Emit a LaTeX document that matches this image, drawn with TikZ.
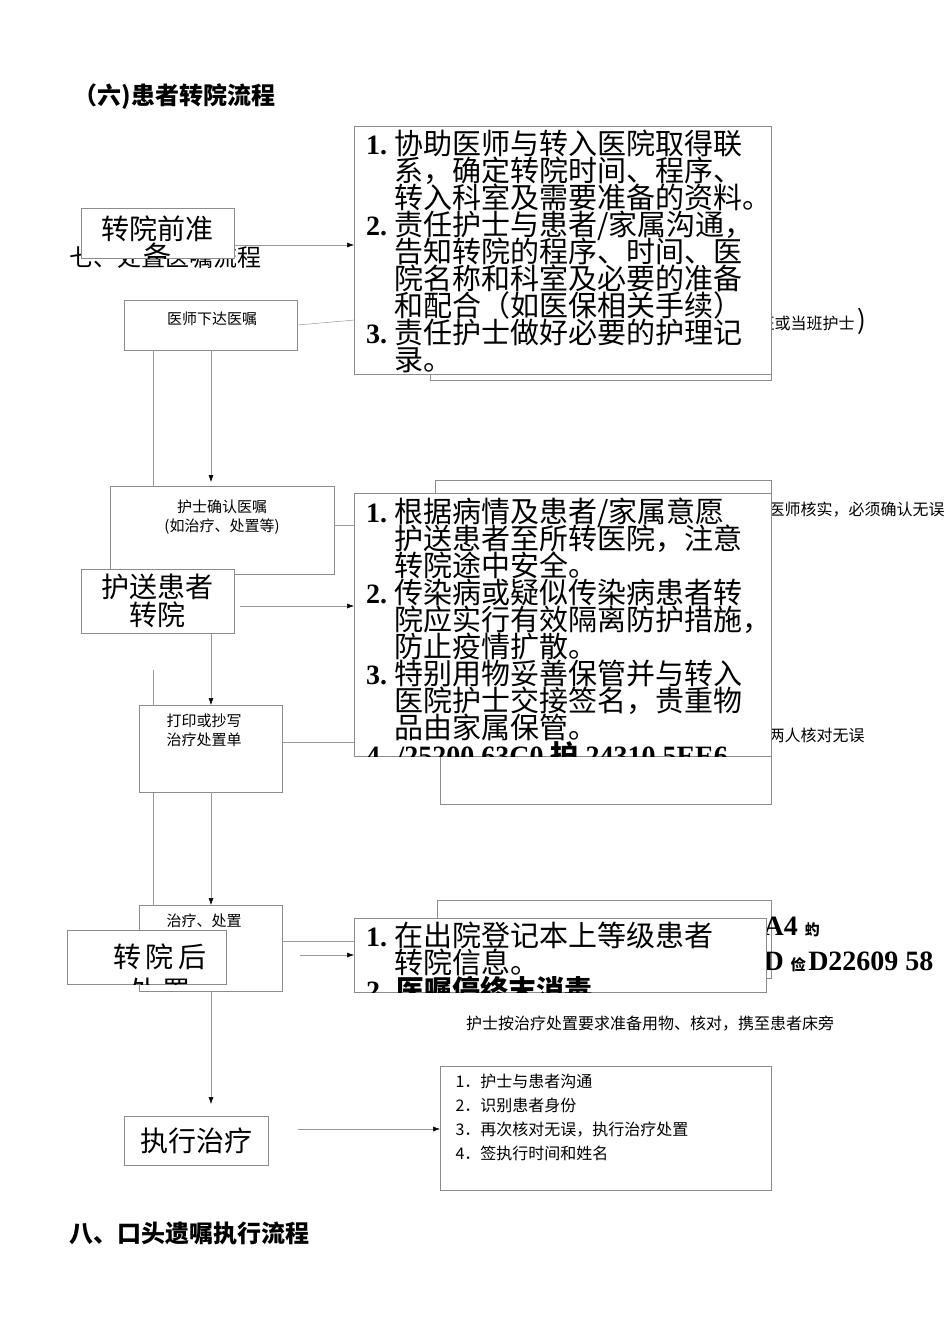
\documentclass[tikz,border=0pt]{standalone}
\usepackage{fontspec}
\setmainfont{Liberation Serif}
\newfontfamily\cjk{Noto Sans CJK SC}
\usetikzlibrary{arrows.meta}
\begin{document}
\begin{tikzpicture}[x=1pt,y=-1pt,
  bx/.style={draw=black!45,line width=0.6pt,fill=white},
  ln/.style={draw=black!40,line width=0.5pt},
  ar/.style={ln,-{Latex[length=7pt,width=5pt,black]}},
  small/.style={font=\cjk\fontsize{15}{19}\selectfont,align=center},
  bigl/.style={anchor=base west,inner sep=0pt,font=\cjk\fontsize{29}{27}\selectfont},
  num/.style={anchor=base west,inner sep=0pt,font=\bfseries\fontsize{28}{27}\selectfont}]
\useasboundingbox (0,0) rectangle (950,1344);
% ---- back layer ----
\node[anchor=west,font=\cjk\bfseries\fontsize{24}{24}\selectfont] (t6) at (70,97) {（六)患者转院流程};
\node[anchor=west,font=\cjk\fontsize{24}{24}\selectfont] (t7) at (66,257) {七、处置医嘱流程};
\node[anchor=west,font=\cjk\bfseries\fontsize{24}{24}\selectfont] (t8) at (66,1233) {八、口头遗嘱执行流程};
\coordinate (q1) at (153,300); \coordinate (q2) at (153,540);
\coordinate (q3) at (153,670); \coordinate (q4) at (153,915);
\draw[ar] (q1) -- (q2);
\draw[ar] (q3) -- (q4);
\node[bx,minimum width=173,minimum height=50,small] (b1) at (210.5,325) {};
\node[small] at (212,319) {医师下达医嘱};
\node[bx,minimum width=224,minimum height=88,anchor=north west] (b2) at (110,486) {};
\node[small] at (222,517) {护士确认医嘱\\(如治疗、处置等)};
\node[bx,minimum width=143,minimum height=87,anchor=north west] (b3) at (139,705) {};
\node[small,anchor=north west,align=left] at (163,710) {打印或抄写\\治疗处置单};
\node[bx,minimum width=143,minimum height=86,anchor=north west] (b4) at (139,905) {};
\node[small,anchor=north west,align=left] at (163,910) {治疗、处置\\准备};
\node[bx,minimum width=144,minimum height=49,font=\cjk\fontsize{28}{28}\selectfont] (b5) at (196,1140.5) {执行治疗};
\draw[ar] (211,350) -- (211,482);
\draw[ar] (211,574) -- (211,705);
\draw[ar] (211,792) -- (211,905);
\draw[ar] (211,991) -- (211,1104);
\node[bx,minimum width=341,minimum height=40,anchor=north west] (r1) at (430,340) {};
\node[bx,minimum width=336,minimum height=100,anchor=north west] (r2) at (435,480) {};
\node[bx,minimum width=331,minimum height=60,anchor=north west] (r3) at (440,744) {};
\node[bx,minimum width=334,minimum height=78,anchor=north west] (r4) at (437,900) {};
\node[bx,minimum width=331,minimum height=124,anchor=north west] (r5) at (440,1066) {};
\node[anchor=north west,font=\cjk\fontsize{16}{24}\selectfont,align=left] at (452,1071)
 {1．护士与患者沟通\\2．识别患者身份\\3．再次核对无误，执行治疗处置\\4．签执行时间和姓名};
\node[font=\cjk\fontsize{16}{16}\selectfont] (n1) at (650,1024) {护士按治疗处置要求准备用物、核对，携至患者床旁};
\node[anchor=west,font=\cjk\fontsize{16}{16}\selectfont] at (755,321) {班或当班护士\,{\fontsize{26}{26}\selectfont )}};
\node[anchor=west,font=\cjk\fontsize{16}{16}\selectfont] at (765,510) {医师核实，必须确认无误};
\node[anchor=west,font=\cjk\fontsize{16}{16}\selectfont] at (765,735) {两人核对无误};
\node[anchor=west,font=\bfseries\fontsize{28}{26}\selectfont] at (760,927) {A4 \cjk\fontsize{15}{13}\selectfont 虳};
\node[anchor=west,font=\bfseries\fontsize{28}{26}\selectfont] at (760,962) {D \cjk\fontsize{15}{13}\selectfont 俭\,\rmfamily\bfseries\fontsize{28}{26}\selectfont D22609 58};
\draw[ln] (b1.east) -- (355,320);
\draw[ln] (334,525) -- (355,525);
\draw[ln] (282,742) -- (355,742);
\draw[ln] (282,941) -- (355,941);
\draw[ar] (298,1129) -- (r5.west |- 0,1129);
% ---- front layer ----
\node[bx,minimum width=417,minimum height=248,anchor=north west] (A) at (354,126) {};
\begin{scope}
\clip (354,126) rectangle (771,374);
\foreach \yy/\t in {143/{协助医师与转入医院取得联},170/{系，确定转院时间、程序、},197/{转入科室及需要准备的资料。},224/{责任护士与患者/家属沟通，},251/{告知转院的程序、时间、医},278/{院名称和科室及必要的准备},305/{和配合（如医保相关手续）},332/{责任护士做好必要的护理记},359/{录。}}
  \node[bigl] at (394,\yy+11) {\t};
\node[num] at (366,154) {1.}; \node[num] at (366,235) {2.}; \node[num] at (366,343) {3.};
\end{scope}
\node[bx,minimum width=417,minimum height=263,anchor=north west] (B) at (354,493) {};
\begin{scope}
\clip (354,493) rectangle (771,756);
\foreach \yy/\t in {511/{根据病情及患者/家属意愿},538/{护送患者至所转医院，注意},565/{转院途中安全。},592/{传染病或疑似传染病患者转},619/{院应实行有效隔离防护措施，},646/{防止疫情扩散。},673/{特别用物妥善保管并与转入},700/{医院护士交接签名，贵重物},727/{品由家属保管。}}
  \node[bigl] at (394,\yy+11) {\t};
\node[num] at (366,522) {1.}; \node[num] at (366,603) {2.}; \node[num] at (366,684) {3.};
\node[num] at (366,765) {4. /25200 63C0 {\cjk 护} 24310 5EE6};
\end{scope}
\node[bx,minimum width=412,minimum height=74,anchor=north west] (C) at (354,918) {};
\begin{scope}
\clip (354,918) rectangle (766,992);
\node[bigl] at (394,946) {在出院登记本上等级患者};
\node[bigl] at (394,973) {转院信息。};
\node[num] at (366,946) {1.};
\node[num] at (366,1000) {2. \cjk 医嘱停终末消毒};
\end{scope}
\node[bx,minimum width=153,minimum height=50,anchor=north west] (p1) at (81,208) {};
\begin{scope}
\clip (81,208) rectangle (234,258);
\node[font=\cjk\fontsize{28}{27}\selectfont,align=center] at (157.5,242) {转院前准\\备};
\end{scope}
\node[bx,minimum width=153,minimum height=64,font=\cjk\fontsize{28}{28}\selectfont,align=center] (p2) at (157.5,601) {护送患者\\转院};
\node[bx,minimum width=159,minimum height=54,anchor=north west] (p3) at (67,930) {};
\begin{scope}
\clip (67,930) rectangle (226,984);
\node[font=\cjk\fontsize{28}{34}\selectfont,align=center] at (160,974) {转\,院\,后\\处\,置};
\end{scope}
\draw[ar] (234,245) -- (A.west |- 0,245);
\draw[ar] (240,606) -- (B.west |- 0,606);
\draw[ar] (300,955) -- (C.west |- 0,955);
\end{tikzpicture}
\end{document}
